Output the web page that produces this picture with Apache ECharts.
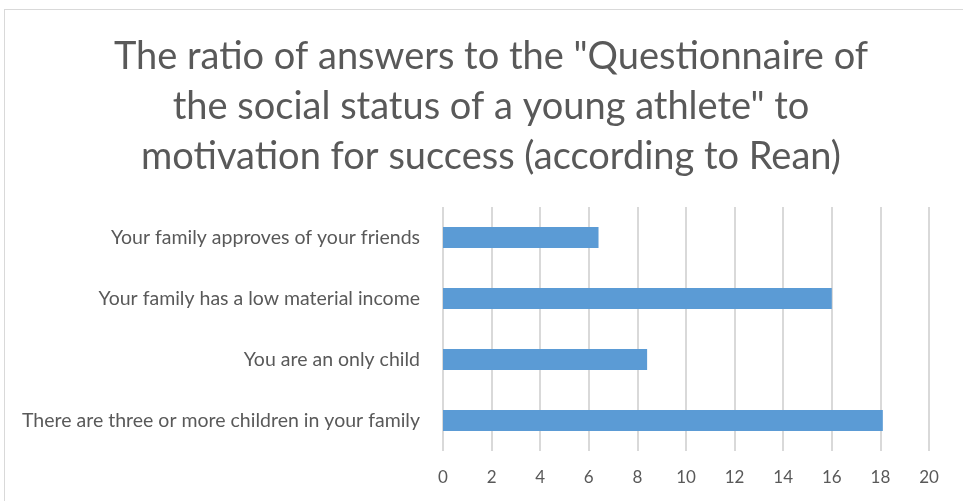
<!DOCTYPE html>
<html>
<head>
<meta charset="utf-8">
<script src="https://cdn.jsdelivr.net/npm/echarts@6/dist/echarts.min.js"></script>
<style>
  html, body { margin: 0; padding: 0; background: #fff; overflow: hidden; }
  #chart {
    position: absolute; left: 4px; top: 9px;
    width: 970px; height: 500px;
    border: 1px solid #d9d9d9;
  }
</style>
</head>
<body>
<div id="chart"></div>
<script>
// categories, bottom to top as in the picture
const categories = [
  'There are three or more children in your family',
  'You are an only child',
  'Your family has a low material income',
  'Your family approves of your friends'
]
const values = [18.1, 8.4, 16, 6.4]

const titleText = 'The ratio of answers to the "Questionnaire of\nthe social status of a young athlete" to\nmotivation for success (according to Rean)'

const chart = echarts.init(document.getElementById('chart'))
chart.setOption({
  animation: false,
  textStyle: { fontFamily: 'Lato' },
  title: {
    text: titleText,
    left: 481,
    top: 17,
    textAlign: 'center',
    textStyle: {
      color: '#595959',
      fontSize: 38,
      fontWeight: 'normal',
      lineHeight: 50,
      fontFamily: 'Lato'
    }
  },
  grid: {
    left: 438,
    right: 46,
    top: 197,
    bottom: 59,
    containLabel: false
  },
  xAxis: {
    type: 'value',
    min: 0,
    max: 20,
    interval: 2,
    axisLine: { show: false },
    axisTick: { show: false },
    axisLabel: { color: '#595959', fontSize: 17, margin: 18 },
    splitLine: { lineStyle: { color: '#d9d9d9', width: 2 } }
  },
  yAxis: {
    type: 'category',
    data: categories,
    axisLine: { show: false },
    axisTick: { show: false },
    axisLabel: { color: '#595959', fontSize: 19.5, margin: 23 }
  },
  series: [{
    type: 'bar',
    data: values,
    barWidth: 21,
    itemStyle: { color: '#5b9bd5' }
  }]
})
</script>
</body>
</html>
